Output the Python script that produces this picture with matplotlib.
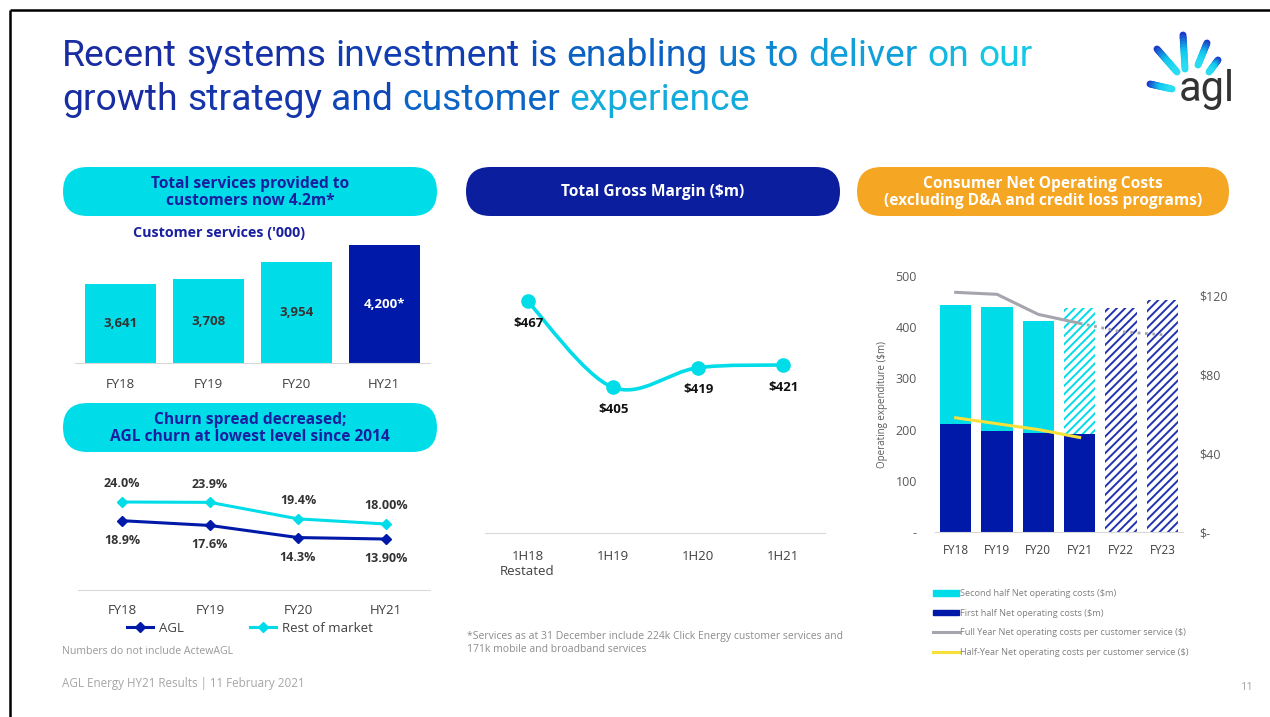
import numpy as np
import matplotlib
matplotlib.use('Agg')
import matplotlib.pyplot as plt
import matplotlib.colors as mcolors
from matplotlib.patches import FancyBboxPatch, Patch, PathPatch
from matplotlib.lines import Line2D
from matplotlib.path import Path
from matplotlib.collections import LineCollection

plt.rcParams['font.family'] = ['Open Sans', 'DejaVu Sans']
plt.rcParams['hatch.linewidth'] = 1.4

W, H = 1270, 717
CYAN = '#00dde8'
NAVY = '#0019a8'
ORANGE = '#f5a623'
TXT = '#404040'

# ---- data ----
svc_years = ['FY18', 'FY19', 'FY20', 'HY21']
svc_values = [3641, 3708, 3954, 4200]
svc_labels = ['3,641', '3,708', '3,954', '4,200*']

churn_years = ['FY18', 'FY19', 'FY20', 'HY21']
churn_agl = [18.9, 17.6, 14.3, 13.9]
churn_rest = [24.0, 23.9, 19.4, 18.0]
churn_agl_labels = ['18.9%', '17.6%', '14.3%', '13.90%']
churn_rest_labels = ['24.0%', '23.9%', '19.4%', '18.00%']

gm_periods = ['1H18\nRestated', '1H19', '1H20', '1H21']
gm_values = [467, 405, 419, 421]
gm_labels = ['$467', '$405', '$419', '$421']

opex_years = ['FY18', 'FY19', 'FY20', 'FY21', 'FY22', 'FY23']
opex_first_half = [210, 197, 193, 191]
opex_second_half = [234, 243, 219, 247]      # FY21 second half is outlook
opex_outlook_total = [438, 453]              # FY22, FY23
cost_per_svc_fy = [121.7, 120.7, 110.5, 106.0]
cost_per_svc_outlook = [106.0, 101.7, 100.2]  # FY21 -> FY23
cost_per_svc_hy = [58, 55, 52, 48]


fig = plt.figure(figsize=(W / 100, H / 100), dpi=100)
bg = fig.add_axes([0, 0, 1, 1])
bg.set_xlim(0, W)
bg.set_ylim(H, 0)
bg.axis('off')
renderer = fig.canvas.get_renderer()


def pax(x0, y0, x1, y1):
    return fig.add_axes([x0 / W, 1 - y1 / H, (x1 - x0) / W, (y1 - y0) / H])


def pill(x0, y0, x1, y1, color, text, tcolor):
    h = y1 - y0
    bg.add_patch(FancyBboxPatch((x0, y0), x1 - x0, h,
                                boxstyle=f"round,pad=0,rounding_size={h / 2}",
                                fc=color, ec='none'))
    bg.text((x0 + x1) / 2, (y0 + y1) / 2 + 1, text, ha='center', va='center',
            color=tcolor, fontsize=11.2, fontweight='bold', linespacing=1.1)


def text_w(s, **kw):
    t = bg.text(0, 0, s, **kw)
    w = t.get_window_extent(renderer).width
    t.remove()
    return w


# page frame
bg.plot([10, 10], [H, 10], color='black', lw=1.8, solid_capstyle='butt')
bg.plot([10, W], [10, 10], color='black', lw=1.8, solid_capstyle='butt')

# title, word by word on a blue -> cyan gradient
title_cmap = mcolors.LinearSegmentedColormap.from_list(
    't', [(0, '#1a2a9e'), (0.35, '#1238b0'), (0.65, '#0a6cc8'), (1, '#16d0e8')])
tprops = dict(family=['Roboto', 'DejaVu Sans'], fontweight='normal')
line1 = "Recent systems investment is enabling us to deliver on our"
line2 = "growth strategy and customer experience"
tsize = 26 * 968 / text_w(line1, fontsize=26, **tprops)
space = text_w('a a', fontsize=tsize, **tprops) - text_w('aa', fontsize=tsize, **tprops)
for line, base in [(line1, 66), (line2, 110)]:
    total = text_w(line, fontsize=tsize, **tprops)
    x = 62
    for word in line.split():
        ww = text_w(word, fontsize=tsize, **tprops)
        c = title_cmap(min(1, (x + ww / 2 - 62) / total))
        bg.text(x, base, word, fontsize=tsize, color=c, va='baseline', **tprops)
        x += ww + space

# logo
rays = [((1150, 84), (1172, 89)), ((1157, 49), (1177, 72)), ((1183, 35), (1185, 69)),
        ((1207, 43), (1198, 65)), ((1218, 60), (1209, 72))]
ray_cmap = mcolors.LinearSegmentedColormap.from_list('r', ['#1a3cc8', '#10c8ee', '#2ee0f2'])
for (xa, ya), (xb, yb) in rays:
    s = np.linspace(0, 1, 12)
    pts = np.column_stack([xa + (xb - xa) * s, ya + (yb - ya) * s])
    segs = np.stack([pts[:-1], pts[1:]], axis=1)
    lc = LineCollection(segs, colors=ray_cmap(s[:-1]), linewidths=5, capstyle='round')
    bg.add_collection(lc)
bg.text(1179, 101, 'agl', fontsize=30, color='#333333', va='baseline',
        family=['Roboto', 'DejaVu Sans'], fontweight='normal')

# ---- pills ----
pill(63, 167, 437, 216, CYAN, 'Total services provided to\ncustomers now 4.2m*', '#1a1fa0')
pill(63, 403, 437, 452, CYAN, 'Churn spread decreased;\nAGL churn at lowest level since 2014', '#1a1fa0')
pill(466, 167, 840, 216, '#0b1e9e', 'Total Gross Margin ($m)', 'white')
pill(857, 167, 1229, 216, ORANGE, 'Consumer Net Operating Costs\n(excluding D&A and credit loss programs)', 'white')

bg.text(219, 233, "Customer services ('000)", ha='center', va='center',
        fontsize=10.3, fontweight='bold', color='#1a1fa0')


def style_cat_axis(ax, labels, pad):
    ax.set_xticks(range(len(labels)))
    ax.set_xticklabels(labels)
    ax.set_yticks([])
    for side in ['top', 'left', 'right']:
        ax.spines[side].set_visible(False)
    ax.spines['bottom'].set_color('#d9d9d9')
    ax.tick_params(axis='x', length=0, pad=pad, labelcolor=TXT, labelsize=9.5)
    ax.patch.set_alpha(0)


# ---- customer services bars ----
ax1 = pax(75, 245, 430, 363)
xs = np.arange(len(svc_years))
ax1.bar(xs, svc_values, width=0.807, color=[CYAN, CYAN, CYAN, NAVY])
ax1.set_ylim(2500, 4200)
ax1.set_xlim(-0.52, 3.52)
for xi, v, lab in zip(xs, svc_values, svc_labels):
    ax1.text(xi, (2500 + v) / 2, lab, ha='center', va='center', fontsize=9.5,
             fontweight='bold', color='white' if lab.endswith('*') else '#333333')
style_cat_axis(ax1, svc_years, 11)

# ---- churn lines ----
ax2 = pax(78, 480, 430, 590)
xc = np.arange(len(churn_years))
ax2.plot(xc, churn_agl, color=NAVY, lw=2.2, marker='D', ms=5.5, label='AGL')
ax2.plot(xc, churn_rest, color=CYAN, lw=2.2, marker='D', ms=5.5, label='Rest of market')
for xi, v, lab in zip(xc, churn_rest, churn_rest_labels):
    ax2.annotate(lab, (xi, v), xytext=(0, 13), textcoords='offset points', ha='center',
                 va='center', fontsize=9, fontweight='bold', color='#333333')
for xi, v, lab in zip(xc, churn_agl, churn_agl_labels):
    ax2.annotate(lab, (xi, v), xytext=(0, -14), textcoords='offset points', ha='center',
                 va='center', fontsize=9, fontweight='bold', color='#333333')
ax2.set_ylim(0, 30)
ax2.set_xlim(-0.5, 3.5)
style_cat_axis(ax2, churn_years, 10)
ax2.legend(loc='center', bbox_to_anchor=(250 / W, 1 - 628 / H), bbox_transform=fig.transFigure,
           ncol=2, frameon=False, fontsize=9.5, handlelength=2.0, columnspacing=5.0,
           handletextpad=0.45, labelcolor=TXT)

# ---- gross margin smoothed line ----
ax3 = pax(485, 290, 825, 533)
xg = np.arange(len(gm_values), dtype=float)
pts = np.column_stack([xg, gm_values])
ext = np.vstack([pts[0], pts, pts[-1]])
verts = [pts[0]]
codes = [Path.MOVETO]
for i in range(len(pts) - 1):
    p0, p1, p2, p3 = ext[i], ext[i + 1], ext[i + 2], ext[i + 3]
    verts += [p1 + (p2 - p0) / 6, p2 - (p3 - p1) / 6, p2]
    codes += [Path.CURVE4] * 3
ax3.add_patch(PathPatch(Path(verts, codes), fill=False, ec=CYAN, lw=2.6))
ax3.plot(xg, gm_values, ls='none', marker='o', ms=9.5, color=CYAN)
for xi, v, lab in zip(xg, gm_values, gm_labels):
    ax3.annotate(lab, (xi, v), xytext=(1, -16), textcoords='offset points', ha='center',
                 va='center', fontsize=9.5, fontweight='bold', color='#111111')
ax3.set_ylim(300, 475)
ax3.set_xlim(-0.5, 3.5)
style_cat_axis(ax3, gm_periods, 12)

bg.text(467, 643, '*Services as at 31 December include 224k Click Energy customer services and\n'
        '171k mobile and broadband services', fontsize=7.5, color='#8c8c8c',
        va='center', linespacing=1.2)

# ---- consumer net operating costs ----
ax4 = pax(935, 276, 1183, 532)
xo = np.arange(len(opex_years))
bw = 0.765
n = len(opex_first_half)
ax4.bar(xo[:n], opex_first_half, width=bw, color=NAVY)
ax4.bar(xo[:n - 1], opex_second_half[:n - 1], bottom=opex_first_half[:n - 1], width=bw, color=CYAN)
ax4.bar(xo[n - 1], opex_second_half[n - 1], bottom=opex_first_half[n - 1], width=bw,
        color='white', edgecolor=CYAN, hatch='////', linewidth=0)
ax4.bar(xo[n:], opex_outlook_total, width=bw, color='white', edgecolor='#2233b0',
        hatch='////', linewidth=0)
ax4.set_ylim(0, 500)
ax4.set_xlim(-0.5, 5.5)
ax4.set_xticks(xo)
ax4.set_xticklabels(opex_years)
ax4.set_yticks([0, 100, 200, 300, 400, 500])
ax4.set_yticklabels(['-', '100', '200', '300', '400', '500'])
for side in ['top', 'left', 'right']:
    ax4.spines[side].set_visible(False)
ax4.spines['bottom'].set_color('#d9d9d9')
ax4.tick_params(axis='x', length=0, pad=9, labelcolor=TXT, labelsize=8.5)
ax4.tick_params(axis='y', length=0, pad=13, labelcolor='#595959', labelsize=9)
ax4.patch.set_alpha(0)

ax5 = ax4.twinx()
ax5.plot(xo[:n], cost_per_svc_fy, color='#a5a5ae', lw=2.2)
ax5.plot(xo[n - 1:], cost_per_svc_outlook, color='#a5a5ae', lw=2, ls=':')
ax5.plot(xo[:n], cost_per_svc_hy, color='#f7e03a', lw=2.2)
ax5.set_ylim(0, 130)
ax5.set_yticks([0, 40, 80, 120])
ax5.set_yticklabels(['$-', '$40', '$80', '$120'])
for side in ['top', 'left', 'right', 'bottom']:
    ax5.spines[side].set_visible(False)
ax5.tick_params(axis='y', length=0, pad=12, labelcolor='#595959', labelsize=9)

bg.text(882, 405, 'Operating expenditure ($m)', rotation=90, ha='center', va='center',
        fontsize=7, color='#595959')

handles = [Patch(color=CYAN), Patch(color=NAVY),
           Line2D([], [], color='#a5a5ae', lw=2.2), Line2D([], [], color='#f7e03a', lw=2.2)]
labels = ['Second half Net operating costs ($m)', 'First half Net operating costs ($m)',
          'Full Year Net operating costs per customer service ($)',
          'Half-Year Net operating costs per customer service ($)']
ax4.legend(handles, labels, loc='upper left', bbox_to_anchor=(933 / W, 1 - 589 / H),
           bbox_transform=fig.transFigure, frameon=False, fontsize=6.6, labelcolor='#808080',
           handlelength=2.8, handleheight=0.55, handletextpad=0.2, labelspacing=1.15,
           borderpad=0, borderaxespad=0)

# ---- footer ----
bg.text(62, 651, 'Numbers do not include ActewAGL', fontsize=7.6, color='#999999', va='center')
bg.text(62, 684, 'AGL Energy HY21 Results | 11 February 2021', fontsize=8.4, color='#a6a6a6',
        va='center')
bg.text(1254, 688, '11', fontsize=7.8, color='#a6a6a6', va='center', ha='right')

fig.savefig('out.png', dpi=100)
